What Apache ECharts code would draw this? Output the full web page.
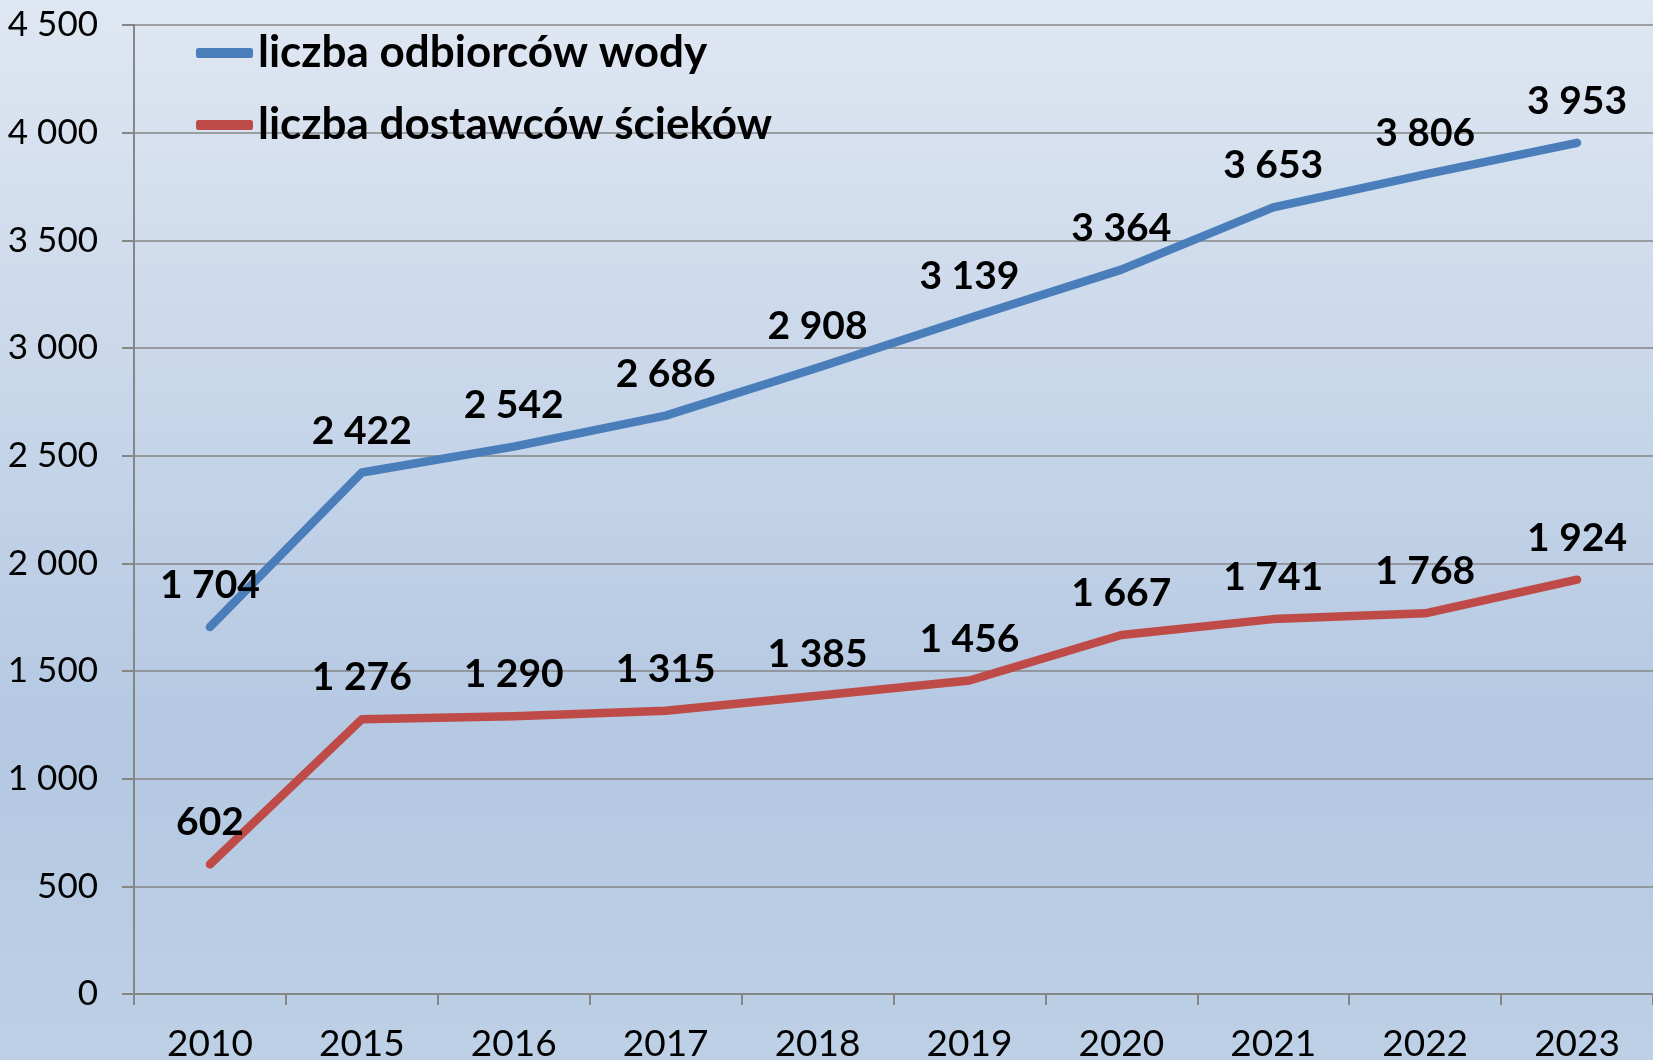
<!DOCTYPE html>
<html><head><meta charset="utf-8">
<script src="https://cdn.jsdelivr.net/npm/echarts@6/dist/echarts.min.js"></script>
<style>html,body{margin:0;padding:0;}#c{width:1653px;height:1060px;}</style>
</head><body><div id="c"></div>
<script>
const categories = ['2010','2015','2016','2017','2018','2019','2020','2021','2022','2023'];
const waterRecipients = [1704,2422,2542,2686,2908,3139,3364,3653,3806,3953];
const sewageSuppliers = [602,1276,1290,1315,1385,1456,1667,1741,1768,1924];
const seriesNames = ['liczba odbiorców wody','liczba dostawców ścieków'];

const FONT = 'Lato, "Open Sans", sans-serif';
const fmt = v => String(v).replace(/\B(?=(\d{3})+(?!\d))/g, ' ');

const chart = echarts.init(document.getElementById('c'));
const mkSeries = (name, data, color) => ({
  name, type: 'line', data,
  symbol: 'circle', symbolSize: 2, showSymbol: true,
  itemStyle: { color, opacity: 0 },
  lineStyle: { color, width: 8.5, cap: 'round', join: 'round' },
  label: { show: true, position: 'top', distance: 21, color: '#000', fontFamily: FONT, fontWeight: 'bold', fontSize: 39, formatter: p => fmt(p.value), opacity: 1 },
  emphasis: { disabled: true },
  animation: false
});
chart.setOption({
  backgroundColor: new echarts.graphic.LinearGradient(0,0,0,1,[
    {offset:0,color:'#dfe7f2'},{offset:0.7,color:'#b4c8e2'},{offset:1,color:'#bdd0e6'}]),
  animation: false,
  grid: { left: 134, right: 0, top: 25, bottom: 66, containLabel: false, outerBoundsMode: 'none' },
  legend: {
    show: true, orient: 'vertical', left: 191, top: 26, itemGap: 28,
    itemWidth: 57, itemHeight: 10, itemTextGap: 0, icon: 'roundRect',
    textStyle: { fontFamily: FONT, fontWeight: 'bold', fontSize: 44, color: '#000' },
    data: [
      { name: seriesNames[0], itemStyle: { color: '#4a7ebb', opacity: 1 } },
      { name: seriesNames[1], itemStyle: { color: '#be4b48', opacity: 1 } }
    ]
  },
  xAxis: {
    type: 'category', data: categories, boundaryGap: true,
    axisLine: { lineStyle: { color: '#868686', width: 2 } },
    axisTick: { show: true, length: 11, lineStyle: { color: '#868686', width: 2 } },
    axisLabel: { color: '#000', fontFamily: FONT, fontSize: 37, margin: 32 }
  },
  yAxis: {
    type: 'value', min: 0, max: 4500, interval: 500,
    axisLine: { show: true, lineStyle: { color: '#868686', width: 2 } },
    axisTick: { show: true, length: 12, lineStyle: { color: '#868686', width: 2 } },
    splitLine: { lineStyle: { color: '#868686', width: 1.5 } },
    axisLabel: { color: '#000', fontFamily: FONT, fontSize: 35, margin: 36, formatter: v => fmt(v) }
  },
  series: [
    mkSeries(seriesNames[0], waterRecipients, '#4a7ebb'),
    mkSeries(seriesNames[1], sewageSuppliers, '#be4b48')
  ]
});
</script></body></html>
